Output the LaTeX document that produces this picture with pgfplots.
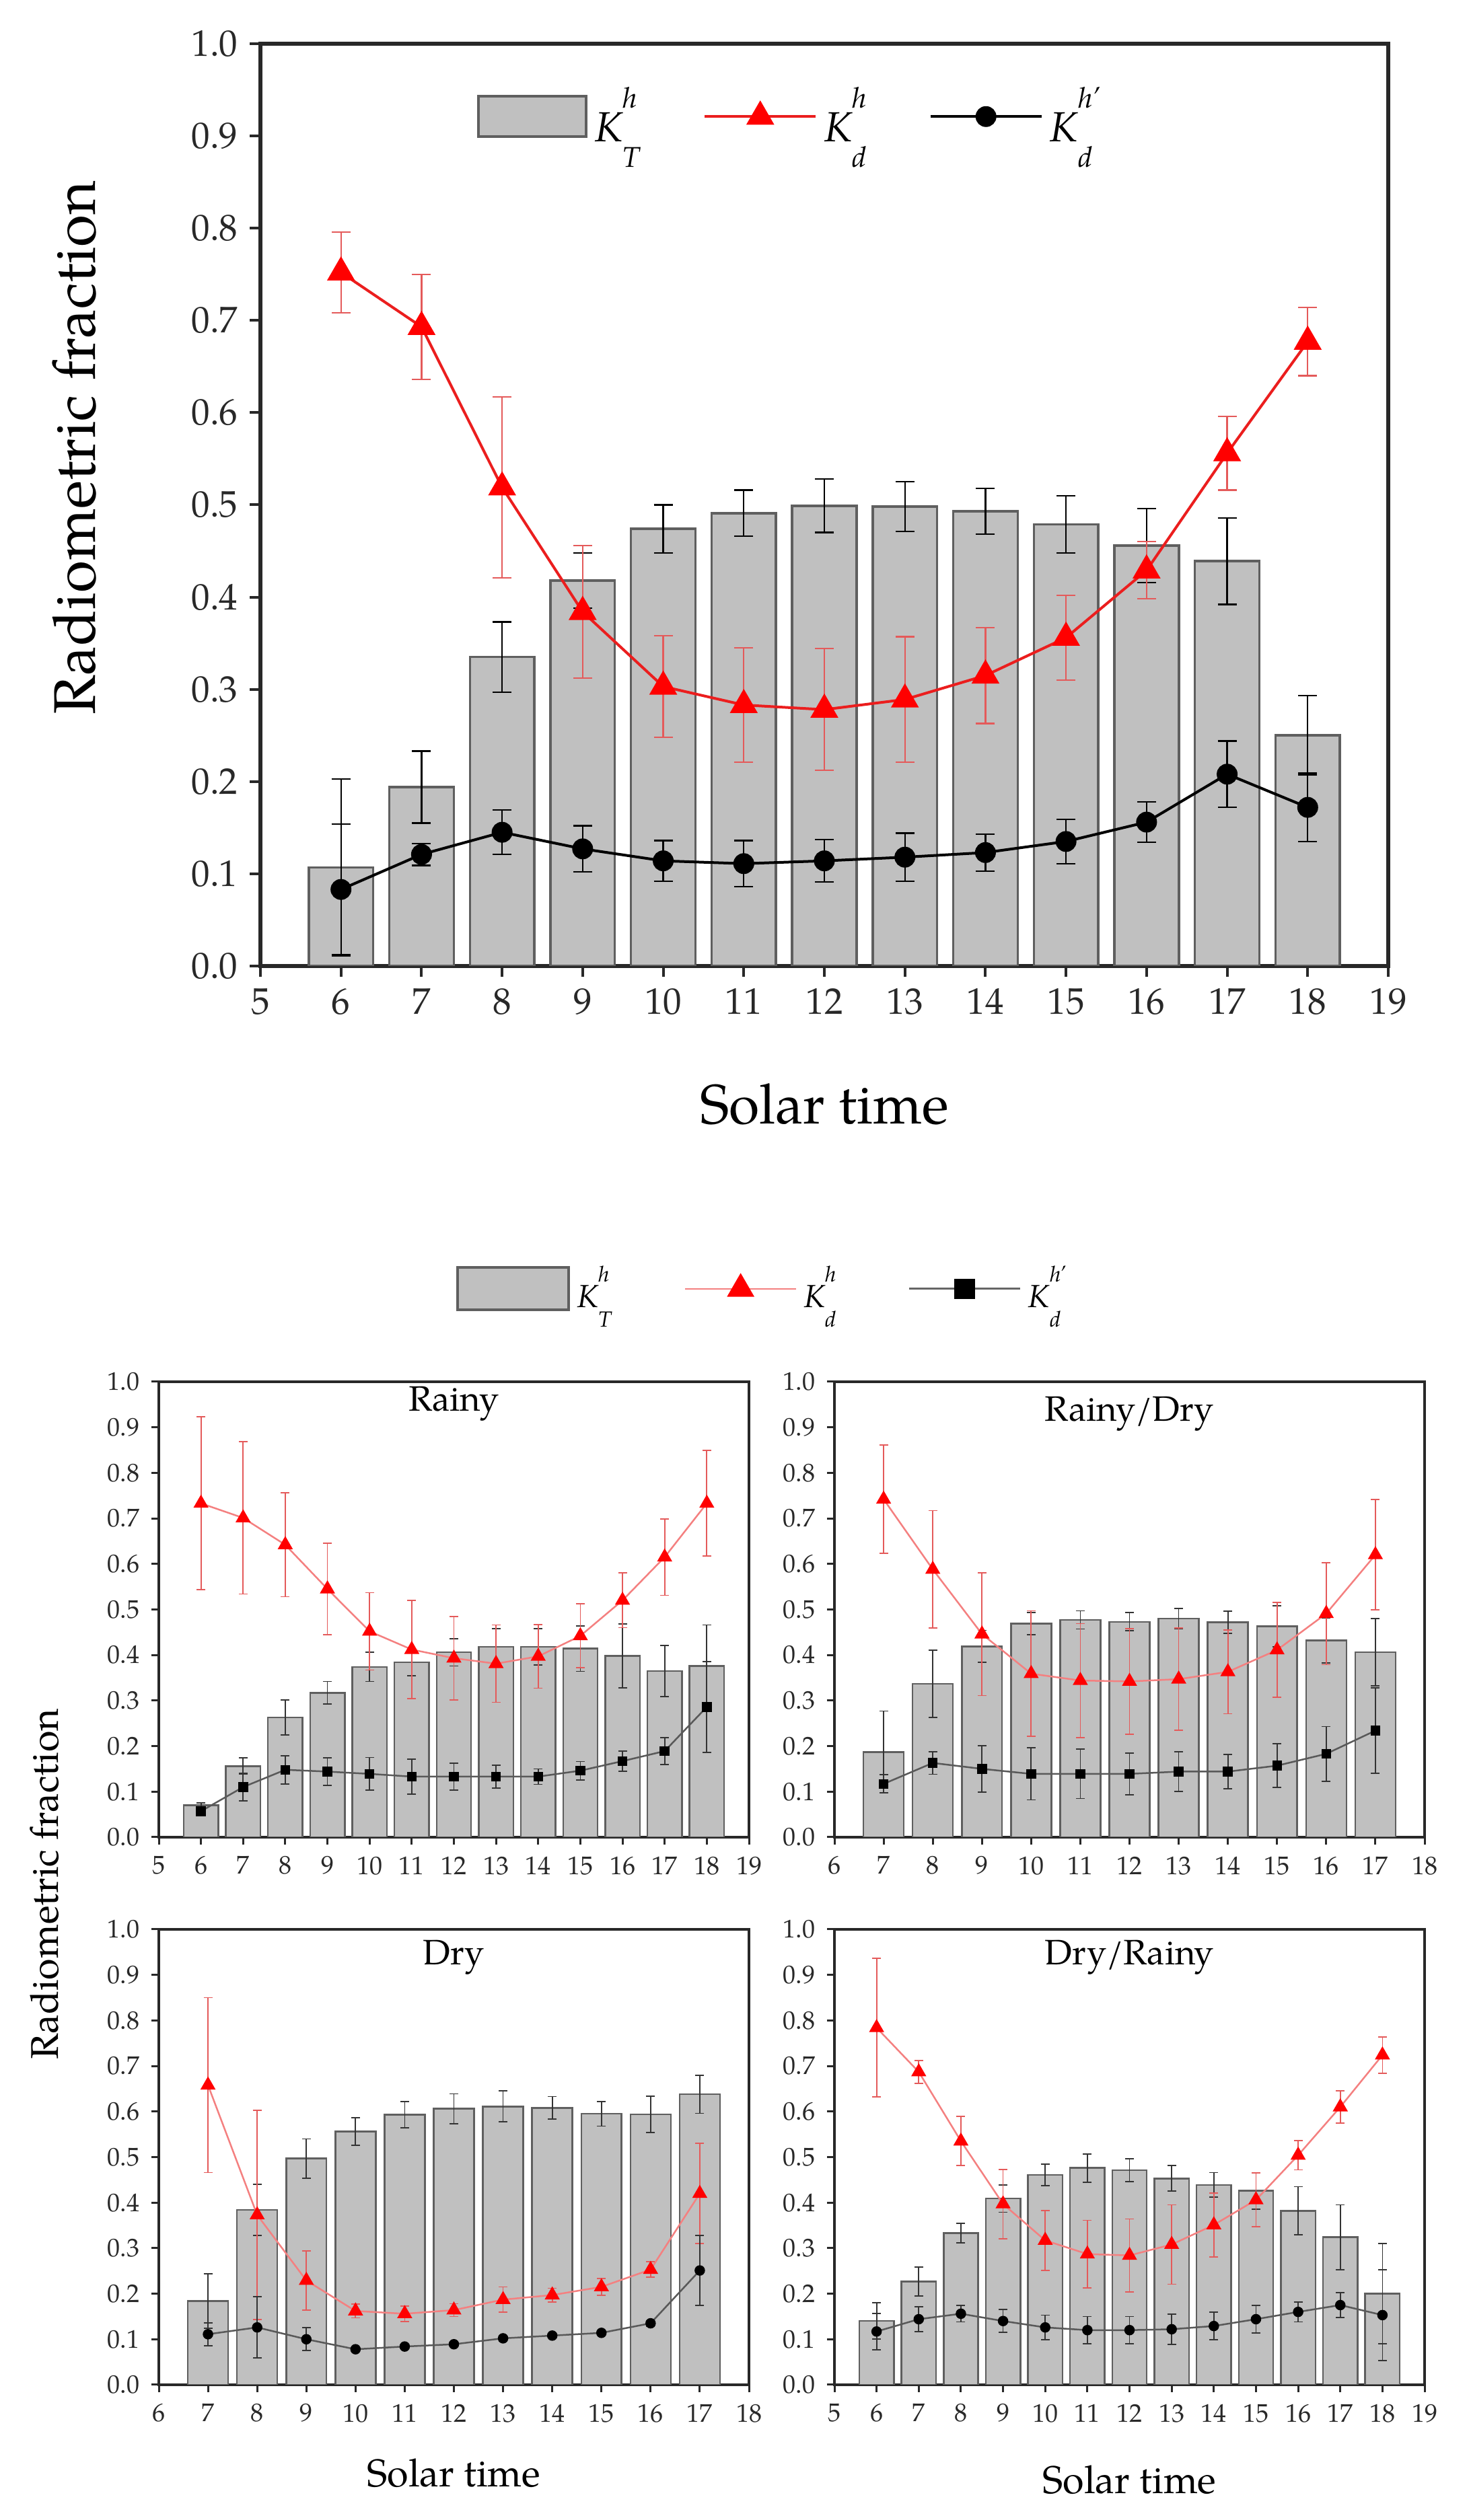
\documentclass[border=0pt]{standalone}
\usepackage{pgfplots}
\pgfplotsset{compat=1.18}
\usepackage{pgfplotstable}
\usepackage{fontspec}
\setmainfont{TeX Gyre Pagella}

\definecolor{barfill}{RGB}{192,192,192}
\definecolor{bardraw}{RGB}{95,95,95}
\definecolor{kdred}{RGB}{235,30,30}
\definecolor{errred}{RGB}{228,90,90}
\definecolor{lightred}{RGB}{244,128,128}
\definecolor{axgray}{RGB}{40,40,40}

% Origin-style symbol: K with superscript above and subscript below
\newcommand{\Ksym}[3]{\textit{K}\rlap{\raisebox{0.8em}{\fontsize{#1}{#1}\selectfont\textit{#2}}}\raisebox{-0.62em}{\fontsize{#1}{#1}\selectfont\textit{#3}}}

% x  KT  KTerr  Kd  Kderr  Kd'  Kd'err
\pgfplotstableread{
x kt kte kd kde kp kpe
6 0.107 0.096 0.752 0.044 0.083 0.071
7 0.194 0.039 0.693 0.057 0.121 0.012
8 0.335 0.038 0.519 0.098 0.145 0.024
9 0.418 0.030 0.384 0.072 0.127 0.025
10 0.474 0.026 0.303 0.055 0.114 0.022
11 0.491 0.025 0.283 0.062 0.111 0.025
12 0.499 0.029 0.278 0.066 0.114 0.023
13 0.498 0.027 0.289 0.068 0.118 0.026
14 0.493 0.025 0.315 0.052 0.123 0.020
15 0.479 0.031 0.356 0.046 0.135 0.024
16 0.456 0.040 0.429 0.031 0.156 0.022
17 0.439 0.047 0.556 0.040 0.208 0.036
18 0.250 0.043 0.677 0.037 0.172 0.037
}\Tall

\pgfplotstableread{
x kt kte kd kde kp kpe
6 0.070 0.005 0.733 0.190 0.057 0.005
7 0.156 0.018 0.701 0.167 0.110 0.030
8 0.263 0.038 0.642 0.114 0.148 0.031
9 0.317 0.025 0.545 0.100 0.144 0.030
10 0.374 0.032 0.452 0.085 0.139 0.036
11 0.384 0.030 0.412 0.108 0.133 0.038
12 0.406 0.030 0.393 0.092 0.133 0.030
13 0.418 0.040 0.381 0.085 0.133 0.025
14 0.418 0.040 0.397 0.070 0.133 0.017
15 0.414 0.050 0.442 0.070 0.146 0.020
16 0.398 0.070 0.520 0.060 0.167 0.022
17 0.365 0.056 0.615 0.084 0.189 0.030
18 0.376 0.090 0.733 0.116 0.286 0.100
}\Trainy

\pgfplotstableread{
x kt kte kd kde kp kpe
7 0.187 0.090 0.742 0.119 0.117 0.020
8 0.337 0.074 0.588 0.129 0.163 0.025
9 0.419 0.035 0.446 0.135 0.150 0.051
10 0.469 0.024 0.359 0.138 0.139 0.057
11 0.477 0.020 0.344 0.125 0.139 0.054
12 0.473 0.020 0.342 0.116 0.139 0.046
13 0.480 0.022 0.347 0.112 0.144 0.044
14 0.472 0.024 0.363 0.092 0.144 0.038
15 0.463 0.045 0.411 0.104 0.157 0.048
16 0.432 0.050 0.491 0.112 0.183 0.060
17 0.406 0.074 0.620 0.121 0.234 0.094
}\Trainydry

\pgfplotstableread{
x kt kte kd kde kp kpe
7 0.184 0.060 0.658 0.192 0.111 0.025
8 0.384 0.056 0.373 0.230 0.126 0.067
9 0.497 0.043 0.229 0.065 0.100 0.025
10 0.556 0.030 0.162 0.015 0.078 0.005
11 0.593 0.029 0.156 0.017 0.084 0.005
12 0.606 0.033 0.164 0.014 0.089 0.005
13 0.611 0.034 0.187 0.028 0.102 0.006
14 0.608 0.025 0.197 0.015 0.108 0.005
15 0.595 0.027 0.215 0.018 0.114 0.005
16 0.594 0.040 0.253 0.017 0.135 0.006
17 0.638 0.042 0.420 0.110 0.251 0.077
}\Tdry

\pgfplotstableread{
x kt kte kd kde kp kpe
6 0.140 0.040 0.784 0.152 0.117 0.040
7 0.227 0.032 0.687 0.025 0.144 0.027
8 0.333 0.021 0.535 0.054 0.156 0.018
9 0.409 0.030 0.397 0.076 0.140 0.025
10 0.461 0.024 0.317 0.066 0.126 0.027
11 0.476 0.031 0.287 0.074 0.120 0.030
12 0.471 0.025 0.284 0.080 0.120 0.030
13 0.453 0.028 0.308 0.087 0.122 0.033
14 0.439 0.027 0.351 0.070 0.129 0.030
15 0.426 0.040 0.406 0.059 0.144 0.030
16 0.382 0.053 0.504 0.032 0.160 0.022
17 0.324 0.071 0.610 0.035 0.175 0.027
18 0.200 0.110 0.724 0.040 0.153 0.100
}\Tdryrainy

\pgfplotsset{
  panel/.style={
    scale only axis,
    ymin=0, ymax=1,
    ytick={0,0.1,0.2,0.3,0.4,0.5,0.6,0.7,0.8,0.9,1},
    tick align=outside, xtick pos=left, ytick pos=left,
    /pgf/number format/assume math mode=true,
    yticklabel style={/pgf/number format/fixed, /pgf/number format/fixed zerofill, /pgf/number format/precision=1},
    axis line style={axgray},
    every tick/.style={axgray},
    tick label style={text=axgray},
  },
  small panel/.style={
    panel,
    width=175.4pt, height=135.4pt,
    major tick length=2.2pt,
    axis line style={axgray, line width=0.8pt},
    every tick/.style={axgray, line width=0.6pt},
    tick label style={font=\fontsize{7.6}{8}\selectfont},
    every axis title shift=0pt,
    title style={at={(0.5,0.938)}, anchor=center, font=\fontsize{10.5}{12}\selectfont},
    xlabel style={font=\fontsize{11.5}{13}\selectfont},
  },
  topline legend/.style={
    legend image code/.code={\draw[mark repeat=2, mark phase=2, ##1] plot coordinates {(0pt,0pt) (16.5pt,0pt) (33pt,0pt)};}
  },
  topbar legend/.style={
    legend image code/.code={\draw[fill=barfill, draw=bardraw, line width=0.8pt] (0pt,-6pt) rectangle (32pt,6pt);}
  },
  smallbar legend/.style={
    legend image code/.code={\draw[fill=barfill, draw=bardraw, line width=0.8pt] (0pt,-6.3pt) rectangle (33pt,6.3pt);}
  },
  smallred legend/.style={
    legend image code/.code={\draw[color=lightred, line width=0.5pt] (0pt,0pt) -- (33pt,0pt); \draw[fill=red, draw=red] plot[mark=triangle*, mark size=4.2pt] coordinates {(16.5pt,0pt)};}
  },
  smallblack legend/.style={
    legend image code/.code={\draw[color=black!60, line width=0.6pt] (0pt,0pt) -- (33pt,0pt); \draw[fill=black, draw=black] plot[mark=square*, mark size=2.8pt] coordinates {(16.5pt,0pt)};}
  },
}

\begin{document}
\begin{tikzpicture}
\useasboundingbox (0,0) rectangle (436.4pt,749.2pt);

% ---------------- Top (all data) ----------------
\begin{axis}[
  panel,
  at={(77.4pt,462pt)}, anchor=south west,
  width=335.2pt, height=274.2pt,
  xmin=5, xmax=19, xtick={5,...,19},
  major tick length=3.2pt,
  axis line style={axgray, line width=1.1pt},
  every tick/.style={axgray, line width=0.8pt},
  tick label style={font=\fontsize{11}{12}\selectfont},
  xlabel={Solar time},
  ylabel={Radiometric fraction},
  xlabel style={at={(axis description cs:0.5,-0.1495)}, anchor=center, font=\fontsize{16.5}{18}\selectfont},
  ylabel style={at={(axis description cs:-0.165,0.562)}, anchor=center, font=\fontsize{17.5}{19}\selectfont},
  legend columns=3,
  legend style={at={(0.468,0.921)}, anchor=center, draw=none, fill=none,
    font=\fontsize{12.5}{15}\selectfont,
    /tikz/every even column/.append style={column sep=16.5pt}},
]
\addplot[ybar, bar width=0.8, fill=barfill, draw=bardraw, line width=0.7pt,
  topbar legend,
  error bars/.cd, y dir=both, y explicit,
  error bar style={black, line width=0.45pt},
  error mark options={rotate=90, black, mark size=2.8pt, line width=0.45pt}]
  table[x=x, y=kt, y error=kte]{\Tall};
\addlegendentry{\Ksym{8.5}{h}{T}}

\addplot[color=kdred, line width=0.8pt, mark=triangle*, mark size=4pt,
  mark options={solid, fill=red, draw=red},
  topline legend,
  error bars/.cd, y dir=both, y explicit,
  error bar style={errred, line width=0.45pt},
  error mark options={rotate=90, errred, mark size=2.8pt, line width=0.45pt}]
  table[x=x, y=kd, y error=kde]{\Tall};
\addlegendentry{\Ksym{8.5}{h}{d}}

\addplot[color=black, line width=0.8pt, mark=*, mark size=2.7pt,
  mark options={solid, fill=black},
  topline legend,
  error bars/.cd, y dir=both, y explicit,
  error bar style={black, line width=0.45pt},
  error mark options={rotate=90, black, mark size=2.8pt, line width=0.45pt}]
  table[x=x, y=kp, y error=kpe]{\Tall};
\addlegendentry{\Ksym{8.5}{h'}{d}}
\end{axis}

% ---------------- Rainy ----------------
\begin{axis}[
  small panel,
  at={(47.2pt,203pt)}, anchor=south west,
  xmin=5, xmax=19, xtick={5,...,19},
  title={Rainy},
  title style={at={(0.5,0.952)}},
  legend columns=3,
  legend style={at={(1.022,1.204)}, anchor=center, draw=none, fill=none,
    font=\fontsize{9.5}{11}\selectfont,
    /tikz/every even column/.append style={column sep=19.3pt}},
]
\addplot[ybar, bar width=0.82, fill=barfill, draw=bardraw, line width=0.5pt,
  smallbar legend,
  error bars/.cd, y dir=both, y explicit,
  error bar style={black!80, line width=0.35pt},
  error mark options={rotate=90, black!80, mark size=1.3pt, line width=0.35pt}]
  table[x=x, y=kt, y error=kte]{\Trainy};
\addlegendentry{\Ksym{6.5}{h}{T}}
\addplot[color=lightred, line width=0.5pt, mark=triangle*, mark size=2.1pt,
  mark options={solid, fill=red, draw=red},
  smallred legend,
  error bars/.cd, y dir=both, y explicit,
  error bar style={errred, line width=0.35pt},
  error mark options={rotate=90, errred, mark size=1.3pt, line width=0.35pt}]
  table[x=x, y=kd, y error=kde]{\Trainy};
\addlegendentry{\Ksym{6.5}{h}{d}}
\addplot[color=black!65, line width=0.5pt, mark=square*, mark size=1.2pt,
  mark options={solid, fill=black, draw=black},
  smallblack legend,
  error bars/.cd, y dir=both, y explicit,
  error bar style={black!80, line width=0.35pt},
  error mark options={rotate=90, black!80, mark size=1.3pt, line width=0.35pt}]
  table[x=x, y=kp, y error=kpe]{\Trainy};
\addlegendentry{\Ksym{6.5}{h'}{d}}
\end{axis}

% ---------------- Rainy/Dry ----------------
\begin{axis}[
  small panel,
  at={(248pt,203pt)}, anchor=south west,
  xmin=6, xmax=18, xtick={6,...,18},
  title={Rainy/Dry},
  title style={at={(0.5,0.93)}},
]
\addplot[ybar, bar width=0.82, fill=barfill, draw=bardraw, line width=0.5pt,
  error bars/.cd, y dir=both, y explicit,
  error bar style={black!80, line width=0.35pt},
  error mark options={rotate=90, black!80, mark size=1.3pt, line width=0.35pt}]
  table[x=x, y=kt, y error=kte]{\Trainydry};
\addplot[color=lightred, line width=0.5pt, mark=triangle*, mark size=2.1pt,
  mark options={solid, fill=red, draw=red},
  error bars/.cd, y dir=both, y explicit,
  error bar style={errred, line width=0.35pt},
  error mark options={rotate=90, errred, mark size=1.3pt, line width=0.35pt}]
  table[x=x, y=kd, y error=kde]{\Trainydry};
\addplot[color=black!65, line width=0.5pt, mark=square*, mark size=1.2pt,
  mark options={solid, fill=black, draw=black},
  error bars/.cd, y dir=both, y explicit,
  error bar style={black!80, line width=0.35pt},
  error mark options={rotate=90, black!80, mark size=1.3pt, line width=0.35pt}]
  table[x=x, y=kp, y error=kpe]{\Trainydry};
\end{axis}

% ---------------- Dry ----------------
\begin{axis}[
  small panel,
  at={(47.2pt,40.2pt)}, anchor=south west,
  xmin=6, xmax=18, xtick={6,...,18},
  title={Dry},
  xlabel={Solar time},
  xlabel style={at={(axis description cs:0.5,-0.194)}, anchor=center},
]
\addplot[ybar, bar width=0.82, fill=barfill, draw=bardraw, line width=0.5pt,
  error bars/.cd, y dir=both, y explicit,
  error bar style={black!80, line width=0.35pt},
  error mark options={rotate=90, black!80, mark size=1.3pt, line width=0.35pt}]
  table[x=x, y=kt, y error=kte]{\Tdry};
\addplot[color=lightred, line width=0.5pt, mark=triangle*, mark size=2.1pt,
  mark options={solid, fill=red, draw=red},
  error bars/.cd, y dir=both, y explicit,
  error bar style={errred, line width=0.35pt},
  error mark options={rotate=90, errred, mark size=1.3pt, line width=0.35pt}]
  table[x=x, y=kd, y error=kde]{\Tdry};
\addplot[color=black!65, line width=0.5pt, mark=*, mark size=1.3pt,
  mark options={solid, fill=black, draw=black},
  error bars/.cd, y dir=both, y explicit,
  error bar style={black!80, line width=0.35pt},
  error mark options={rotate=90, black!80, mark size=1.3pt, line width=0.35pt}]
  table[x=x, y=kp, y error=kpe]{\Tdry};
\end{axis}

% ---------------- Dry/Rainy ----------------
\begin{axis}[
  small panel,
  at={(248pt,40.2pt)}, anchor=south west,
  xmin=5, xmax=19, xtick={5,...,19},
  title={Dry/Rainy},
  xlabel={Solar time},
  xlabel style={at={(axis description cs:0.5,-0.208)}, anchor=center},
]
\addplot[ybar, bar width=0.82, fill=barfill, draw=bardraw, line width=0.5pt,
  error bars/.cd, y dir=both, y explicit,
  error bar style={black!80, line width=0.35pt},
  error mark options={rotate=90, black!80, mark size=1.3pt, line width=0.35pt}]
  table[x=x, y=kt, y error=kte]{\Tdryrainy};
\addplot[color=lightred, line width=0.5pt, mark=triangle*, mark size=2.1pt,
  mark options={solid, fill=red, draw=red},
  error bars/.cd, y dir=both, y explicit,
  error bar style={errred, line width=0.35pt},
  error mark options={rotate=90, errred, mark size=1.3pt, line width=0.35pt}]
  table[x=x, y=kd, y error=kde]{\Tdryrainy};
\addplot[color=black!65, line width=0.5pt, mark=*, mark size=1.3pt,
  mark options={solid, fill=black, draw=black},
  error bars/.cd, y dir=both, y explicit,
  error bar style={black!80, line width=0.35pt},
  error mark options={rotate=90, black!80, mark size=1.3pt, line width=0.35pt}]
  table[x=x, y=kp, y error=kpe]{\Tdryrainy};
\end{axis}

% shared y label of the lower panels
\node[rotate=90, anchor=center, font=\fontsize{11.5}{13}\selectfont] at (13.2pt,189pt) {Radiometric fraction};
\end{tikzpicture}
\end{document}
